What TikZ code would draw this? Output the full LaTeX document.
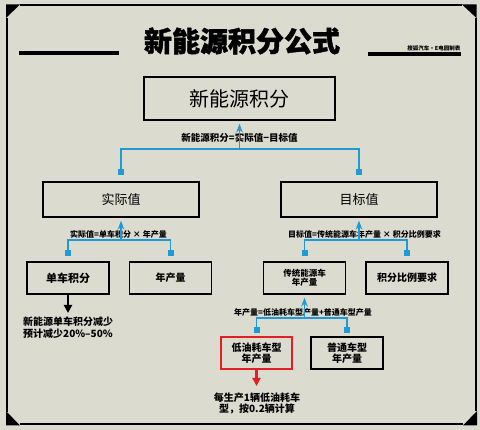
\documentclass[tikz,border=0pt]{standalone}
\usepackage{fontspec}
\setmainfont{Noto Sans CJK SC}
\usetikzlibrary{arrows.meta,positioning}
\definecolor{paper}{HTML}{DCDBD0}
\definecolor{linkblue}{HTML}{1E9AD6}
\definecolor{alertred}{HTML}{E31E24}
\newcommand{\fs}[1]{\fontsize{#1}{1.15\dimexpr#1pt\relax}\selectfont}

\begin{document}
\begin{tikzpicture}[x=1pt, y=-1pt, >=Stealth,
    box/.style={draw, line width=1.5pt, minimum width=82pt, minimum height=32pt,
        align=center, inner sep=0pt},
    link/.style={draw=linkblue, line width=1.3pt},
    sq/.style={fill=linkblue, minimum size=6pt, inner sep=0pt},
    eq/.style={inner sep=0pt, font=\fs{8}\bfseries},
    pointer/.style={line width=2.6pt, -{Triangle[length=8pt,width=8pt]}},
]
    % Background
    \fill[paper] (0,0) rectangle (480,430);
    \useasboundingbox (0,0) rectangle (480,430);

    % Frame
    \draw[line width=2pt] (20,5.5) -- (462,5.5);
    \draw[line width=2pt] (20,424.5) -- (463,424.5);
    \draw[line width=2pt] (7,18) -- (7,412);
    \draw[line width=2pt] (475.5,18) -- (475.5,411);
    \fill (6,4.5) -- (20,4.5) -- (6,18) -- cycle;
    \fill (462,4.5) -- (476.5,4.5) -- (476.5,18) -- cycle;
    \fill (6,411) -- (6,425.5) -- (20,425.5) -- cycle;
    \fill (463,425.5) -- (477,425.5) -- (477,411) -- cycle;

    % Title
    \node[font=\fs{28}\bfseries\addfontfeatures{FakeBold=1.5}] (title) at (242,41) {新能源积分公式};
    \draw[line width=4pt] (19,53.5) -- (119,53.5);
    \draw[line width=4pt] (368,54) -- (461,54);
    \node[font=\fs{5.5}\bfseries, anchor=south east, inner sep=0.5pt] (credit) at (461,51.5) {搜狐汽车·E电园制表};

    % Boxes
    \node[box, minimum width=191pt, minimum height=43pt, font=\fs{20}] (jf) at (239.5,98.5) {新能源积分};
    \node[box, minimum width=156pt, minimum height=35pt, font=\fs{13}] (sj) at (121,199.5) {实际值};
    \node[box, minimum width=156pt, minimum height=35pt, font=\fs{13}] (mb) at (359,199.5) {目标值};
    \node[box, font=\fs{11}\bfseries] (dc) at (68,278) {单车积分};
    \node[box, font=\fs{10}\bfseries] (nc) at (170.5,278) {年产量};
    \node[box, font=\fontsize{8.5}{9.5}\selectfont\bfseries] (ct) at (304.5,278) {传统能源车\\年产量};
    \node[box, font=\fs{10}\bfseries] (bl) at (407,278) {积分比例要求};
    \node[box, draw=alertred, minimum width=71pt, font=\fontsize{10}{11}\selectfont\bfseries] (dy) at (256.5,353) {低油耗车型\\年产量};
    \node[box, minimum width=72pt, font=\fontsize{10}{11}\selectfont\bfseries] (pt) at (347,353) {普通车型\\年产量};

    % Connector squares
    \node[sq, above=6pt of sj] (sq-sj) {};
    \node[sq, above=6pt of mb] (sq-mb) {};
    \node[sq, above=5pt of dc] (sq-dc) {};
    \node[sq, above=5pt of nc] (sq-nc) {};
    \node[sq, above=5pt of ct] (sq-ct) {};
    \node[sq, above=5pt of bl] (sq-bl) {};
    \node[sq, above=3pt of dy] (sq-dy) {};
    \node[sq, above=3pt of pt] (sq-pt) {};

    % Bars
    \coordinate (bar1) at (239.5,149);
    \coordinate (bar2) at (121,240);
    \coordinate (bar3) at (359,240);
    \coordinate (bar4) at (304.5,318);

    % Formulas
    \node[eq, font=\fs{9.5}\bfseries] (eq1) at (239.5,138) {新能源积分=实际值−目标值};
    \node[eq] (eq2) at (118.5,234) {实际值=单车积分 × 年产量};
    \node[eq] (eq3) at (364.5,234) {目标值=传统能源车年产量 × 积分比例要求};
    \node[eq] (eq4) at (303,312) {年产量=低油耗车型产量+普通车型产量};

    \draw[link] (sq-sj) -- (sq-sj |- bar1) -- (sq-mb |- bar1) -- (sq-mb);
    \draw[link, ->, shorten >=3pt] (bar1) -- (jf);
    \draw[link] (sq-dc) -- (sq-dc |- bar2) -- (sq-nc |- bar2) -- (sq-nc);
    \draw[link, ->, shorten >=3pt] (bar2) -- (sj);
    \draw[link] (sq-ct) -- (sq-ct |- bar3) -- (sq-bl |- bar3) -- (sq-bl);
    \draw[link, ->, shorten >=3pt] (bar3) -- (mb);
    \draw[link] (sq-dy) -- (sq-dy |- bar4) -- (sq-pt |- bar4) -- (sq-pt);
    \draw[link, ->, shorten >=3pt] (bar4) -- (ct);

    % Notes
    \coordinate (dc-end) at (68,313);
    \coordinate (dy-end) at (256.5,386);
    \draw[pointer] (dc) -- (dc-end);
    \draw[pointer, alertred] (dy) -- (dy-end);
    \node[anchor=north west, align=left, inner sep=0pt, font=\fontsize{10}{11.5}\selectfont\bfseries] (note1) at (23,317) {新能源单车积分减少\\预计减少20\%–50\%};
    \node[align=center, inner sep=0pt, font=\fontsize{10}{11}\selectfont\bfseries] (note2) at (257,403.5) {每生产1辆低油耗车\\型，按0.2辆计算};
\end{tikzpicture}
\end{document}
